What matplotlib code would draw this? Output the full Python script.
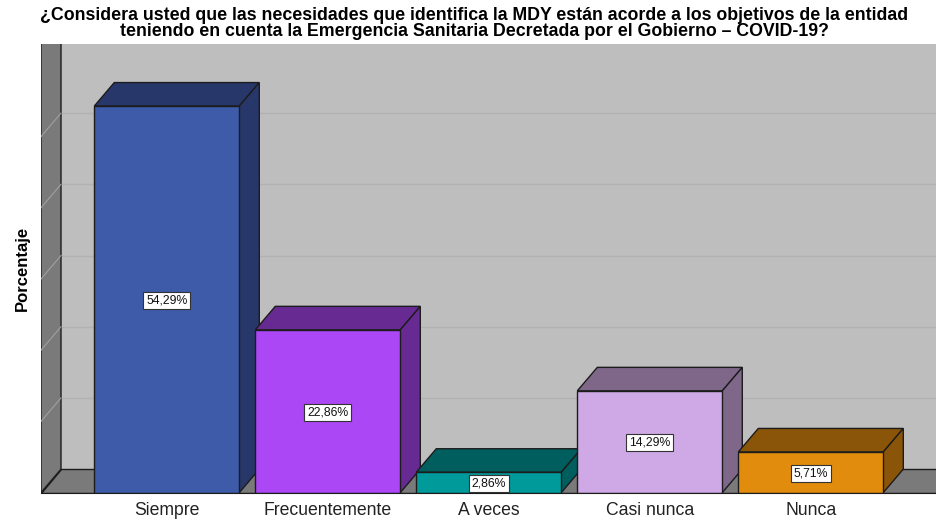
import matplotlib; matplotlib.use("Agg"); import matplotlib.pyplot as plt
from matplotlib.patches import Polygon

plt.rcParams["font.family"] = ["Liberation Sans", "DejaVu Sans"]

categories = ["Siempre", "Frecuentemente", "A veces", "Casi nunca", "Nunca"]
values = [54.29, 22.86, 2.86, 14.29, 5.71]
labels = ["54,29%", "22,86%", "2,86%", "14,29%", "5,71%"]
front_colors = ["#3E5BA9", "#AB47F5", "#009A9A", "#CFA9E5", "#E18C0D"]
dark_colors = ["#27376A", "#672A93", "#005E5E", "#7F6789", "#8A5508"]
grid_vals = [10, 20, 30, 40, 50]
title = ("¿Considera usted que las necesidades que identifica la MDY están acorde a los objetivos de la entidad\n"
         "teniendo en cuenta la Emergencia Sanitaria Decretada por el Gobierno – COVID-19?")

W, H = 937, 522
L, R, T, B = 41, 937, 44, 492.6  # plot box, pixels
PX_X, PX_Y = 161, 7.12           # pixels per category, per percent
DX, DY = 20 / PX_X, 23.5 / PX_Y  # 3D depth in data units
HW = 72.5 / PX_X
EDGE = "#1c1c1c"

fig = plt.figure(figsize=(W / 100, H / 100), dpi=100)
ax = fig.add_axes([L / W, 1 - B / H, (R - L) / W, (B - T) / H])
x0 = -(166.8 - L) / PX_X
x1 = x0 + (R - L) / PX_X
y1 = (B - T) / PX_Y
ax.set_xlim(x0, x1)
ax.set_ylim(0, y1)
ax.set_facecolor("#BEBEBE")


def poly(pts, fc, z, lw=1.0, ec=EDGE):
    ax.add_patch(Polygon(pts, closed=True, fc=fc, ec=ec, lw=lw, zorder=z))


# floor and left wall
poly([(x0, 0), (x1 + 1, 0), (x1 + 1, DY), (x0 + DX, DY)], "#7A7A7A", 1)
poly([(x0, 0), (x0 + DX, DY), (x0 + DX, y1 + 2), (x0, y1 + 2)], "#7A7A7A", 1.5)
for g in grid_vals:
    ax.plot([x0 + DX, x1], [g + DY, g + DY], color="#B2B2B2", lw=1, zorder=0.5)
    ax.plot([x0, x0 + DX], [g, g + DY], color="#A0A0A0", lw=0.8, zorder=1.6)

for i, (v, lab) in enumerate(zip(values, labels)):
    z = 2 + i
    a, b = i - HW, i + HW
    poly([(a, v), (b, v), (b + DX, v + DY), (a + DX, v + DY)], dark_colors[i], z)
    poly([(b, 0), (b + DX, DY), (b + DX, v + DY), (b, v)], dark_colors[i], z)
    poly([(a, 0), (b, 0), (b, v), (a, v)], front_colors[i], z + 0.1)
    ax.text(i, v / 2 - 0.15, lab, ha="center", va="center", fontsize=8.8, color="#111111", zorder=20,
            bbox=dict(boxstyle="square,pad=0.22", fc="white", ec="#333333", lw=0.8))

ax.set_xticks(range(len(categories)))
ax.set_xticklabels(categories, fontsize=12.7, color="#222222")
ax.tick_params(axis="x", length=0, pad=7)
ax.set_yticks([])
for s in ["top", "right", "left"]:
    ax.spines[s].set_visible(False)
ax.spines["bottom"].set_color(EDGE)
ax.spines["bottom"].set_zorder(30)

fig.text(22 / W, 1 - 268 / H, "Porcentaje", rotation=90, ha="center", va="center",
         fontsize=12, fontweight="bold")
fig.text(474 / W, 1 - 23.5 / H, title, ha="center", va="center", fontsize=12.8, fontweight="bold",
         linespacing=1.0)

fig.savefig("out.png", dpi=100)
